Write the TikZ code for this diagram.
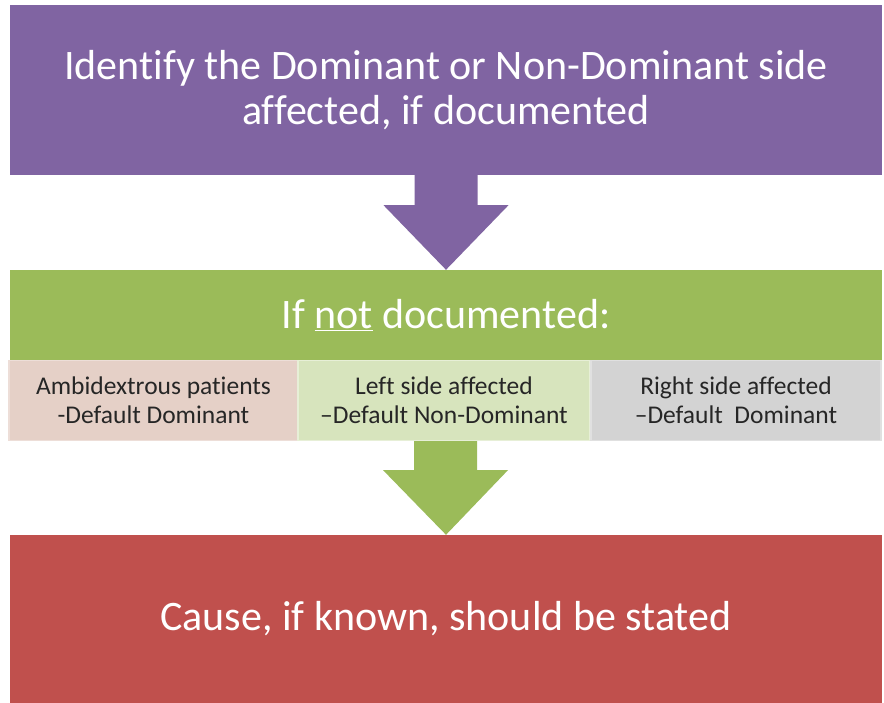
\documentclass[tikz,border=0pt]{standalone}
\usepackage{fontspec}
\setmainfont[Ligatures=CommonOff]{Carlito}
\usetikzlibrary{calc}
\definecolor{cpurple}{HTML}{8064A2}
\definecolor{cgreen}{HTML}{9BBB59}
\definecolor{cred}{HTML}{C0504D}
\definecolor{cpink}{HTML}{E5D0C7}
\definecolor{clgreen}{HTML}{D7E4BD}
\definecolor{cgray}{HTML}{D3D3D3}
\definecolor{ctext}{HTML}{262626}
\tikzset{
  bigbox/.style={rectangle, inner sep=0pt, minimum width=872pt, text=white, align=center,
    font=\fontsize{42}{45}\selectfont},
  subbox/.style={rectangle, inner sep=0pt, text=ctext, align=center,
    font=\fontsize{25.5}{29}\selectfont, line width=1.2pt}
}
\begin{document}
\begin{tikzpicture}[x=1pt,y=-1pt]
\useasboundingbox[fill=white] (0,0) rectangle (884,703);
% boxes
\node[bigbox, fill=cpurple, minimum height=170pt] (top) at (446,90) {Identify the Dominant or Non-Dominant side\\affected, if documented};
\node[bigbox, fill=cgreen, minimum height=90pt] (mid) at (446,315) {If \underline{not} documented:};
\node[bigbox, fill=cred, minimum height=168pt] (bot) at (446,619) {Cause, if known, should be stated};
\node[subbox, fill=cpink, draw=cpink!70!white, minimum width=289pt, minimum height=80pt] (s1) at (153.5,400.5) {Ambidextrous patients\\-Default Dominant};
\node[subbox, fill=clgreen, draw=clgreen!60!white, minimum width=292pt, minimum height=80pt] (s2) at (444,400.5) {Left side affected\\–Default Non-Dominant};
\node[subbox, fill=cgray, draw=cgray!70!white, minimum width=290pt, minimum height=80pt] (s3) at (736,400.5) {Right side affected\\–Default\ \ Dominant};
% block arrows
\fill[cpurple] ($(top.south)+(-31.5,0)$) -- ($(top.south)+(31.5,0)$) -- ($(top.south)+(31.5,30)$)
  -- ($(top.south)+(62.5,30)$) -- (mid.north) -- ($(top.south)+(-62.5,30)$) -- ($(top.south)+(-31.5,30)$) -- cycle;
\fill[cgreen] ($(s2.south)+(1.5,0)$) coordinate (g0) -- ($(g0)+(-31.5,0)$) -- ($(g0)+(-31.5,29)$) -- ($(g0)+(-62.5,29)$)
  -- (bot.north) -- ($(g0)+(62.5,29)$) -- ($(g0)+(31.5,29)$) -- ($(g0)+(31.5,0)$) -- cycle;
\end{tikzpicture}
\end{document}
